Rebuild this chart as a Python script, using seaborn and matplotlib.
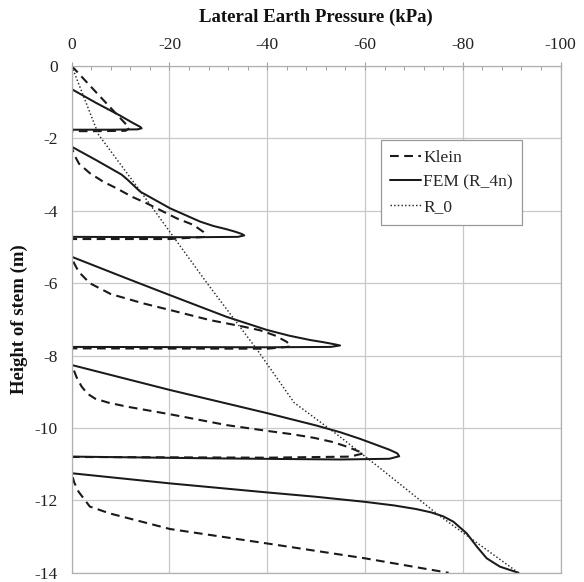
import matplotlib
matplotlib.use("Agg")
import matplotlib.pyplot as plt
import pandas as pd
import seaborn as sns
from matplotlib.ticker import MultipleLocator
from matplotlib.lines import Line2D

sns.set_style("white")
plt.rcParams["font.family"] = ["Liberation Serif", "DejaVu Serif"]
plt.rcParams["axes.unicode_minus"] = False

# Klein solution: lateral pressure (kPa) against height along the stem (m)
klein_depth = [0.0, -0.8, -1.58, -1.72, -1.79, -1.80, -1.80,
               -2.25, -2.45, -2.70, -2.96, -3.20, -3.38, -3.61, -3.79, -3.98, -4.21, -4.39, -4.58, -4.72, -4.78, -4.78,
               -5.25, -5.45, -5.68, -6.00, -6.30, -6.56, -6.74, -7.02, -7.20, -7.30, -7.44, -7.62, -7.75, -7.81, -7.80,
               -8.25, -8.60, -8.85, -9.05, -9.19, -9.30, -9.41, -9.62, -9.92, -10.08, -10.17, -10.27, -10.39, -10.53, -10.70, -10.79, -10.82, -10.80,
               -11.25, -11.50, -11.76, -12.17, -12.36, -12.79, -13.19, -13.60, -14.00]
klein_pressure = [0.0, -5.5, -10.9, -11.8, -11.0, -5.0, 0.0,
                  0.0, -0.5, -1.5, -3.7, -6.5, -9.2, -12.3, -15.3, -18.1, -21.5, -24.9, -26.9, -27.3, -20.0, 0.0,
                  0.0, -0.5, -1.4, -3.7, -8.0, -14.7, -20.1, -28.3, -35.1, -38.5, -41.5, -44.0, -44.8, -40.0, 0.0,
                  0.0, -1.0, -2.0, -3.2, -4.8, -7.5, -11.3, -20.1, -31.7, -40.0, -45.0, -49.5, -53.5, -56.6, -59.7, -57.0, -40.0, 0.0,
                  0.0, -0.5, -1.4, -3.7, -7.8, -20.1, -40.0, -60.0, -77.1]

# FEM result for the R_4n model
fem_depth = [0.0, -0.64, -1.02, -1.37, -1.58, -1.68, -1.72, -1.75, -1.76, -1.76,
             -2.23, -2.60, -3.00, -3.15, -3.47, -3.93, -4.30, -4.42, -4.51, -4.58, -4.64, -4.68, -4.72, -4.73, -4.72,
             -5.27, -5.87, -6.33, -6.93, -7.29, -7.45, -7.57, -7.63, -7.68, -7.72, -7.76, -7.77, -7.76,
             -8.26, -8.95, -9.59, -9.76, -9.93, -10.12, -10.30, -10.47, -10.60, -10.70, -10.78, -10.85, -10.87, -10.84, -10.79,
             -11.25, -11.53, -11.78, -11.90, -12.04, -12.14, -12.24, -12.33, -12.44, -12.59, -12.91, -13.28, -13.60, -13.83, -14.00]
fem_pressure = [0.0, 0.0, -5.0, -9.9, -12.6, -14.0, -14.3, -13.5, -8.0, 0.0,
                0.0, -5.0, -10.2, -11.5, -14.0, -20.1, -26.3, -29.0, -31.7, -33.5, -34.8, -35.3, -34.0, -25.0, 0.0,
                0.0, -11.3, -20.1, -31.7, -39.9, -44.5, -48.8, -51.5, -53.5, -54.9, -53.0, -40.0, 0.0,
                0.0, -20.1, -40.0, -45.0, -50.0, -55.0, -59.0, -62.4, -65.0, -66.6, -67.0, -65.0, -55.0, -30.0, 0.0,
                0.0, -20.1, -40.0, -50.0, -60.0, -66.0, -70.5, -73.5, -76.0, -78.1, -80.8, -82.9, -84.9, -87.6, -91.4]

# At-rest reference profile R_0
r0_depth = [0.0, -1.90, -3.45, -6.00, -7.85, -9.30, -10.15, -11.10, -12.40, -14.00]
r0_pressure = [0.0, -5.5, -14.0, -27.7, -38.0, -45.5, -54.0, -63.0, -75.0, -91.4]

series_names = ["Klein", "FEM (R_4n)", "R_0"]
x_ticks = [0, -20, -40, -60, -80, -100]
x_tick_labels = ["0", "-20", "-40", "-60", "-80", "-100"]
y_ticks = [0, -2, -4, -6, -8, -10, -12, -14]
y_tick_labels = ["0", "-2", "-4", "-6", "-8", "-10", "-12", "-14"]

frames = []
for name, d, p in zip(series_names,
                      [klein_depth, fem_depth, r0_depth],
                      [klein_pressure, fem_pressure, r0_pressure]):
    frames.append(pd.DataFrame({"depth": d, "pressure": p, "series": name}))
df = pd.concat(frames, ignore_index=True)

styles = {
    "Klein": dict(color="#1a1a1a", linewidth=1.5, dashes=(4.2, 2.6)),
    "FEM (R_4n)": dict(color="#1a1a1a", linewidth=1.45, dashes=None),
    "R_0": dict(color="#2a2a2a", linewidth=1.05, dashes=(1.0, 1.5)),
}

fig = plt.figure(figsize=(5.84, 5.82), dpi=100)
ax = fig.add_axes([0.1228, 0.0158, 0.837, 0.8708])

handles = []
for name in series_names:
    st = styles[name]
    sub = df[df["series"] == name]
    sns.lineplot(data=sub, x="pressure", y="depth", sort=False, estimator=None,
                 color=st["color"], linewidth=st["linewidth"], ax=ax, legend=False)
    line = ax.lines[-1]
    line.set_solid_joinstyle("round")
    line.set_dash_joinstyle("round")
    if st["dashes"] is not None:
        line.set_dashes(st["dashes"])
    h = Line2D([], [], color=st["color"], linewidth=st["linewidth"])
    if st["dashes"] is not None:
        h.set_dashes(st["dashes"])
    handles.append(h)

ax.set_xlim(0, -100)
ax.set_ylim(-14, 0)
ax.xaxis.tick_top()
ax.xaxis.set_label_position("top")
ax.set_xticks(x_ticks)
ax.set_xticklabels(x_tick_labels)
ax.set_yticks(y_ticks)
ax.set_yticklabels(y_tick_labels)
ax.xaxis.set_minor_locator(MultipleLocator(4))
ax.yaxis.set_minor_locator(MultipleLocator(0.4))

ax.grid(True, which="major", color="#c8c8c8", linewidth=0.9)
ax.set_axisbelow(True)
for sp in ax.spines.values():
    sp.set_color("#b0b0b0")
    sp.set_linewidth(0.9)

ax.tick_params(axis="both", which="major", direction="inout", length=6, width=0.8,
               color="#a0a0a0", labelsize=12.5, labelcolor="#222222")
ax.tick_params(axis="x", which="major", pad=6)
ax.tick_params(axis="y", which="major", pad=7)
ax.tick_params(axis="both", which="minor", direction="in", length=3, width=0.7,
               color="#a0a0a0")

ax.set_xlabel("Lateral Earth Pressure (kPa)", fontsize=13.5, fontweight="bold",
              labelpad=11, color="#111111")
ax.set_ylabel("Height of stem (m)", fontsize=13.5, fontweight="bold",
              labelpad=5, color="#111111")

leg = ax.legend(handles, series_names, loc="upper left", bbox_to_anchor=(0.632, 0.854),
                fontsize=12.5, frameon=True, fancybox=False, framealpha=1,
                edgecolor="#999999", handlelength=1.8, handletextpad=0.1,
                labelspacing=0.5, borderpad=0.55, borderaxespad=0)
leg.get_frame().set_linewidth(0.9)

fig.savefig("out.png", dpi=100)
